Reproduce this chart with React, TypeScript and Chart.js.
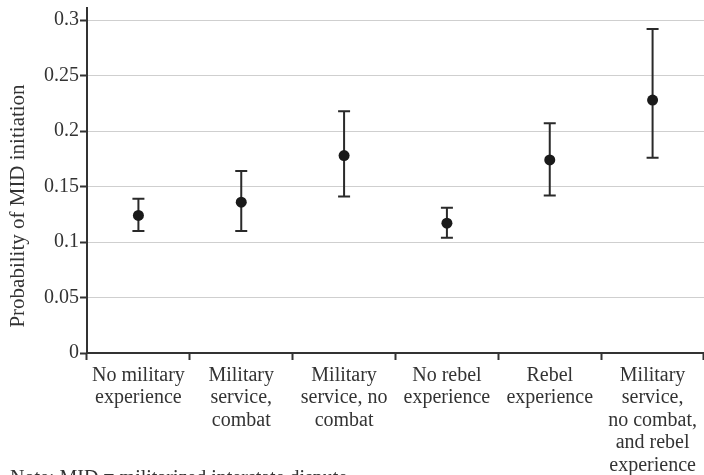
import React, { useEffect, useRef } from "react";
import { Chart, registerables } from "chart.js";

Chart.register(...registerables);

const categories: string[][] = [
  ["No military", "experience"],
  ["Military", "service,", "combat"],
  ["Military", "service, no", "combat"],
  ["No rebel", "experience"],
  ["Rebel", "experience"],
  ["Military", "service,", "no combat,", "and rebel", "experience"],
];
const estimates = [0.124, 0.136, 0.178, 0.117, 0.174, 0.228];
const upper = [0.139, 0.164, 0.218, 0.131, 0.207, 0.292];
const lower = [0.11, 0.11, 0.141, 0.104, 0.142, 0.176];
const yTicks = [0, 0.05, 0.1, 0.15, 0.2, 0.25, 0.3];
const yTitle = "Probability of MID initiation";
const note = "Note: MID = militarized interstate dispute.";

const FONT = "'Liberation Serif', 'Times New Roman', serif";
const TEXT = "#333333";
const INK = "#1a1a1a";

const errorBars = {
  id: "errorBars",
  beforeDatasetsDraw(chart: any) {
    const { ctx, scales } = chart;
    const x = scales.x;
    const y = scales.y;
    ctx.save();
    ctx.strokeStyle = "#2a2a2a";
    ctx.lineWidth = 2;
    const capHalf = 6;
    for (let i = 0; i < estimates.length; i++) {
      const px = x.getPixelForValue(i);
      const pu = y.getPixelForValue(upper[i]);
      const pl = y.getPixelForValue(lower[i]);
      ctx.beginPath();
      ctx.moveTo(px, pu);
      ctx.lineTo(px, pl);
      ctx.moveTo(px - capHalf, pu);
      ctx.lineTo(px + capHalf, pu);
      ctx.moveTo(px - capHalf, pl);
      ctx.lineTo(px + capHalf, pl);
      ctx.stroke();
    }
    ctx.restore();
  },
};

const extraText = {
  id: "extraText",
  afterDraw(chart: any) {
    const { ctx } = chart;
    ctx.save();
    ctx.fillStyle = TEXT;
    ctx.font = `21px ${FONT}`;
    ctx.textAlign = "center";
    ctx.textBaseline = "middle";
    ctx.translate(18, 206);
    ctx.rotate(-Math.PI / 2);
    ctx.fillText(yTitle, 0, 0);
    ctx.restore();
    ctx.save();
    ctx.fillStyle = TEXT;
    ctx.font = `20px ${FONT}`;
    ctx.textAlign = "left";
    ctx.textBaseline = "top";
    ctx.fillText(note, 10, 469);
    ctx.restore();
  },
};

export default function App() {
  const ref = useRef<HTMLCanvasElement | null>(null);
  useEffect(() => {
    if (!ref.current) return;
    const chart = new Chart(ref.current, {
      type: "line",
      data: {
        labels: categories as any,
        datasets: [
          {
            data: estimates,
            showLine: false,
            pointRadius: 5.5,
            pointHoverRadius: 5.5,
            pointBackgroundColor: INK,
            pointBorderColor: INK,
            pointBorderWidth: 0,
          },
        ],
      },
      options: {
        animation: false,
        responsive: false,
        maintainAspectRatio: false,
        layout: { autoPadding: false, padding: { top: 8, right: -2, left: 0, bottom: 0 } },
        plugins: {
          legend: { display: false },
          tooltip: { enabled: false },
        },
        scales: {
          x: {
            type: "category",
            offset: true,
            grid: {
              offset: true,
              drawOnChartArea: false,
              drawTicks: true,
              tickLength: 7,
              tickColor: "#333",
              tickWidth: 2,
            },
            border: { color: "#333", width: 2 },
            ticks: {
              color: TEXT,
              font: { family: FONT, size: 20, lineHeight: 1.13 },
              padding: 4,
              maxRotation: 0,
              autoSkip: false,
            },
            afterFit(scale: any) {
              scale.height = 122;
              scale.paddingLeft = 0;
              scale.paddingRight = 0;
            },
          },
          y: {
            min: 0,
            max: 0.311,
            grid: {
              color: "#cfcfcf",
              lineWidth: 1,
              tickColor: "#333",
              tickWidth: 2,
              tickLength: 7,
            },
            border: { color: "#333", width: 2 },
            ticks: {
              color: TEXT,
              font: { family: FONT, size: 20 },
              padding: 1,
              callback: (v: any) => String(v),
            },
            afterBuildTicks(scale: any) {
              scale.ticks = yTicks.map((v) => ({ value: v }));
            },
            afterFit(scale: any) {
              scale.width = 87;
              scale.paddingTop = 0;
              scale.paddingBottom = 0;
            },
          },
        },
      },
      plugins: [errorBars, extraText],
    });
    return () => chart.destroy();
  }, []);
  return (
    <div style={{ position: "fixed", left: 0, top: 0, width: 704, height: 475, overflow: "hidden", background: "#fff" }}>
      <canvas ref={ref} width={704} height={475} style={{ display: "block" }} />
    </div>
  );
}
